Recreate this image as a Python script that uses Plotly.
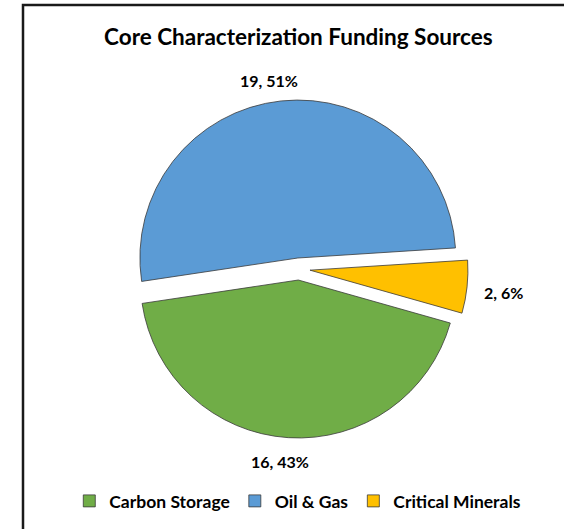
import plotly.graph_objects as go

# Funding sources for core characterization projects
categories = ["Carbon Storage", "Oil & Gas", "Critical Minerals"]
project_counts = [16, 19, 2]
share_labels = ["43%", "51%", "6%"]
slice_colors = ["#70AD47", "#5B9BD5", "#FFC000"]

W, H = 564, 529
FONT = "Lato"

# Pixel anchors for the data labels (centre of each label), per slice
label_xy = [(280, 461), (269, 80), (503, 292)]

fig = go.Figure(
    go.Pie(
        labels=categories,
        values=project_counts,
        textinfo="none",
        marker=dict(colors=slice_colors, line=dict(color="#3a3a3a", width=0.8)),
        sort=False,
        direction="clockwise",
        rotation=105.8,
        pull=[0.07, 0.07, 0.07],
        hoverinfo="label+value+percent",
        domain=dict(x=[0.2305, 0.8298], y=[0.172, 0.811]),
    )
)

for count, share, (px, py) in zip(project_counts, share_labels, label_xy):
    fig.add_annotation(
        text=f"{count}, {share}",
        xref="paper",
        yref="paper",
        x=px / W,
        y=1 - py / H,
        xanchor="center",
        yanchor="middle",
        showarrow=False,
        font=dict(family=FONT, size=16, color="#000000", weight="bold"),
    )

fig.update_layout(
    width=W,
    height=H,
    margin=dict(l=0, r=0, t=0, b=0),
    paper_bgcolor="#FFFFFF",
    plot_bgcolor="#FFFFFF",
    title=dict(
        text="Core Characterization Funding Sources",
        font=dict(family=FONT, size=22.5, color="#000000", weight="bold"),
        x=0.529,
        xanchor="center",
        y=1 - 37 / H,
        yanchor="middle",
    ),
    showlegend=True,
    legend=dict(
        orientation="h",
        x=0.528,
        xanchor="center",
        y=1 - 501 / H,
        yanchor="middle",
        font=dict(family=FONT, size=17.5, color="#000000", weight="bold"),
        itemwidth=30,
        tracegroupgap=0,
    ),
    shapes=[
        dict(
            type="rect",
            xref="paper",
            yref="paper",
            x0=23 / W,
            x1=1.1,
            y0=-0.1,
            y1=1 - 5 / H,
            line=dict(color="#1a1a1a", width=2.5),
        )
    ],
)

fig.write_html("out.html")
